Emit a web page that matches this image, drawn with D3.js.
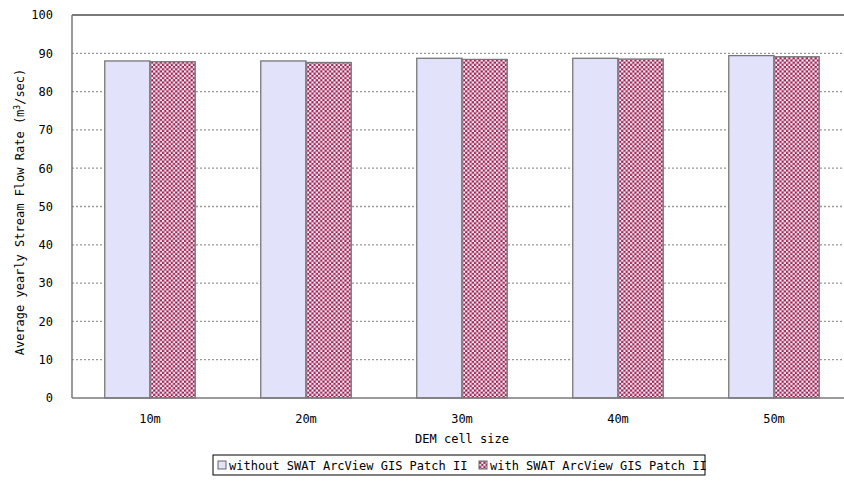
<!DOCTYPE html>
<html>
<head>
<meta charset="utf-8">
<script src="https://cdn.jsdelivr.net/npm/d3@7"></script>
<style>
   body { margin: 0; background: #fff; }
   text { font-family: "DejaVu Sans Mono", monospace; fill: #000; }
</style>
</head>
<body>
<svg id="chart" width="844" height="483"></svg>
<script>

var categories = ['10m', '20m', '30m', '40m', '50m'];
var seriesNames = ['without SWAT ArcView GIS Patch II', 'with SWAT ArcView GIS Patch II'];
var withoutPatch = [88.0, 88.0, 88.7, 88.7, 89.4];
var withPatch = [87.8, 87.6, 88.4, 88.5, 89.1];
var yTicks = [0, 10, 20, 30, 40, 50, 60, 70, 80, 90, 100];

var svg = d3.select('#chart');

var plotLeft = 72, plotTop = 15, plotBottom = 398, plotRight = 852;

var x = d3.scaleBand()
   .domain(categories)
   .range([plotLeft, plotRight])
   .paddingInner(0.42)
   .paddingOuter(0.21);

var inner = d3.scaleBand()
   .domain([0, 1])
   .range([0, x.bandwidth()]);

var y = d3.scaleLinear()
   .domain([0, 100])
   .range([plotBottom, plotTop]);

// checker pattern for the second series
var defs = svg.append('defs');
var pat = defs.append('pattern')
   .attr('id', 'checker')
   .attr('patternUnits', 'userSpaceOnUse')
   .attr('width', 4.4)
   .attr('height', 4.4);
pat.append('rect').attr('width', 4.4).attr('height', 4.4).attr('fill', '#9e1f55');
pat.append('rect').attr('x', 0).attr('y', 0).attr('width', 2.2).attr('height', 2.2).attr('fill', '#f8eef3');
pat.append('rect').attr('x', 2.2).attr('y', 2.2).attr('width', 2.2).attr('height', 2.2).attr('fill', '#f8eef3');

var fills = ['#e2e2fb', 'url(#checker)'];

// grid lines
svg.append('g')
   .selectAll('line')
   .data(yTicks.filter(function(d) { return d > 0 && d < 100; }))
   .enter().append('line')
   .attr('x1', plotLeft).attr('x2', plotRight)
   .attr('y1', function(d) { return y(d); })
   .attr('y2', function(d) { return y(d); })
   .attr('stroke', '#999')
   .attr('stroke-width', 1.3)
   .attr('stroke-dasharray', '2,2');

// bars
var data = categories.map(function(c, i) {
   return { cat: c, values: [withoutPatch[i], withPatch[i]] };
});

var groups = svg.append('g')
   .selectAll('g')
   .data(data)
   .enter().append('g')
   .attr('transform', function(d) { return 'translate(' + x(d.cat) + ',0)'; });

groups.selectAll('rect')
   .data(function(d) { return d.values; })
   .enter().append('rect')
   .attr('x', function(d, i) { return inner(i); })
   .attr('y', function(d) { return y(d); })
   .attr('width', inner.bandwidth())
   .attr('height', function(d) { return plotBottom - y(d); })
   .attr('fill', function(d, i) { return fills[i]; })
   .attr('stroke', '#777')
   .attr('stroke-width', 1.3);

// frame
svg.append('line')
   .attr('x1', plotLeft).attr('x2', plotRight).attr('y1', plotTop).attr('y2', plotTop)
   .attr('stroke', '#7a7a7a').attr('stroke-width', 2);
svg.append('line')
   .attr('x1', plotLeft).attr('x2', plotLeft).attr('y1', plotTop).attr('y2', plotBottom)
   .attr('stroke', '#7a7a7a').attr('stroke-width', 1.5);
svg.append('line')
   .attr('x1', plotLeft).attr('x2', plotRight).attr('y1', plotBottom).attr('y2', plotBottom)
   .attr('stroke', '#7a7a7a').attr('stroke-width', 1.5);

// y axis labels
var yAxis = d3.axisLeft(y).tickValues(yTicks).tickSize(0).tickPadding(19);
var yg = svg.append('g').attr('transform', 'translate(' + plotLeft + ',0)').call(yAxis);
yg.select('.domain').remove();
yg.selectAll('text').style('font-size', '12px');

// x axis labels
var xAxis = d3.axisBottom(x).tickSize(0).tickPadding(16);
var xg = svg.append('g').attr('transform', 'translate(0,' + plotBottom + ')').call(xAxis);
xg.select('.domain').remove();
xg.selectAll('text').style('font-size', '12px');

// titles
svg.append('text')
   .attr('x', x('30m') + x.bandwidth() / 2).attr('y', 443)
   .attr('text-anchor', 'middle')
   .style('font-size', '12px')
   .text('DEM cell size');

var yt = svg.append('text')
   .attr('transform', 'translate(24,212) rotate(-90)')
   .attr('text-anchor', 'middle')
   .style('font-size', '12px');
yt.append('tspan').text('Average yearly Stream Flow Rate (m');
yt.append('tspan').attr('dy', -4).style('font-size', '8px').text('3');
yt.append('tspan').attr('dy', 4).text('/sec)');

// legend
var legend = svg.append('g').attr('transform', 'translate(213,455)');
legend.append('rect')
   .attr('width', 492).attr('height', 20)
   .attr('fill', '#fff').attr('stroke', '#000').attr('stroke-width', 1);

var itemX = [5, 266];
seriesNames.forEach(function(name, i) {
   var it = legend.append('g').attr('transform', 'translate(' + itemX[i] + ',0)');
   it.append('rect')
      .attr('x', 0).attr('y', 6).attr('width', 8).attr('height', 8)
      .attr('fill', fills[i]).attr('stroke', '#666');
   it.append('text')
      .attr('x', 11).attr('y', 14.5)
      .style('font-size', '12px')
      .text(name);
});

</script>
</body>
</html>
